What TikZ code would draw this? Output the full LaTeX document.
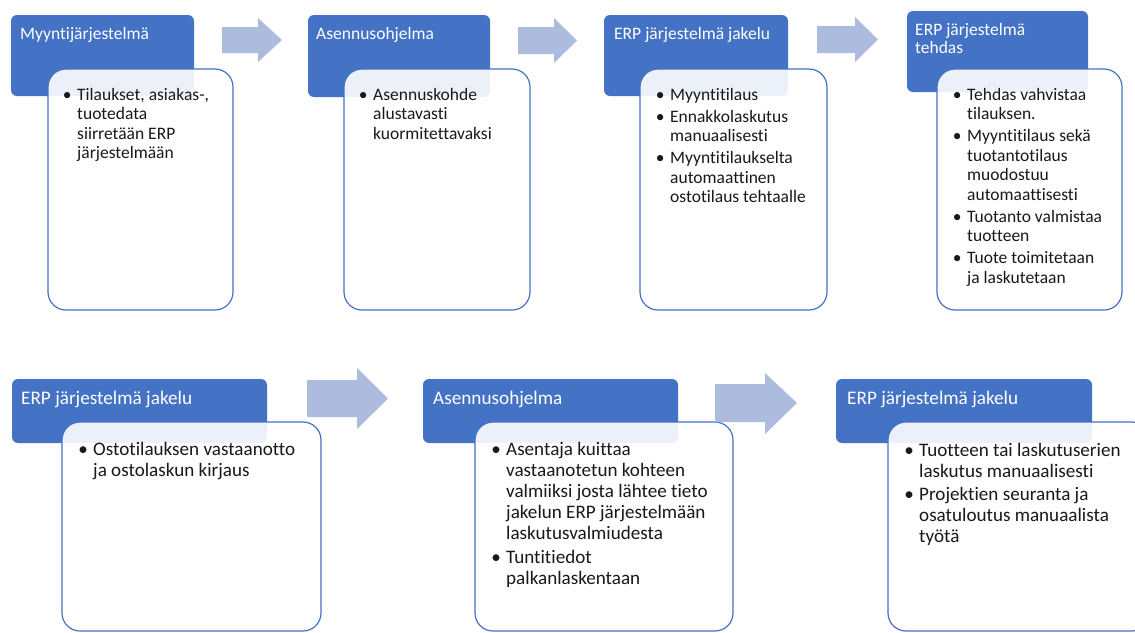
\documentclass[tikz,border=0pt]{standalone}
\usepackage{fontspec}
\setmainfont{Carlito}[Ligatures={NoCommon,NoRare}]
\definecolor{hblue}{HTML}{4472C4}
\definecolor{arrowc}{HTML}{ADBBDF}
\newcommand\bl{\leavevmode\llap{\makebox[20pt]{•}}}
\tikzset{
  hdr/.style={fill=hblue, draw=none, rounded corners=6pt, anchor=north west, inner sep=0pt, outer sep=0pt},
  bodybox/.style={fill=white, fill opacity=0.9, draw=hblue, line width=1.2pt, rounded corners=18pt, anchor=north west, inner sep=0pt, outer sep=0pt},
  hdrtxt/.style={text=white, anchor=base west, inner sep=0pt, font=\fontsize{17.5}{18}\selectfont},
  hdrtxtb/.style={text=white, anchor=base west, inner sep=0pt, font=\fontsize{19.2}{21}\selectfont},
  bodytxt/.style={text=black!90, anchor=base west, inner sep=0pt, font=\fontsize{17.5}{19.5}\selectfont},
  bodytxtb/.style={text=black!90, anchor=base west, inner sep=0pt, font=\fontsize{19.1}{21}\selectfont},
  blockarrow/.style={fill=arrowc, draw=none}
}
\begin{document}
\begin{tikzpicture}[x=1pt,y=-1pt]
\clip (0,0) rectangle (1135,632);
\fill[white] (0,0) rectangle (1135,632);

% ---------- top row ----------
\node[hdr, minimum width=183pt, minimum height=81pt] (h1) at (11,15) {};
\node[bodybox, minimum width=185pt, minimum height=241pt] (b1) at (48,69) {};
\node[hdrtxt] (ht1) at (20,39.5) {Myyntijärjestelmä};
\node[bodytxt] (t1) at (77,100) {\parbox[t]{150pt}{\bl Tilaukset, asiakas-,\\ tuotedata\\ siirretään ERP\\ järjestelmään}};

\node[hdr, minimum width=182pt, minimum height=82pt] (h2) at (308,15) {};
\node[bodybox, minimum width=186pt, minimum height=241pt] (b2) at (344,69) {};
\node[hdrtxt] (ht2) at (316,39.5) {Asennusohjelma};
\node[bodytxt] (t2) at (373,100) {\parbox[t]{150pt}{\bl Asennuskohde\\ alustavasti\\ kuormitettavaksi}};

\node[hdr, minimum width=184pt, minimum height=81pt] (h3) at (604,15) {};
\node[bodybox, minimum width=187pt, minimum height=241pt] (b3) at (640,69) {};
\node[hdrtxt] (ht3) at (614,39.5) {ERP järjestelmä jakelu};
\node[bodytxt] (t3) at (670,100) {\parbox[t]{150pt}{\bl Myyntitilaus\\[2.5pt]
\bl Ennakkolaskutus\\ manuaalisesti\\[2.5pt]
\bl Myyntitilaukselta\\ automaattinen\\ ostotilaus tehtaalle}};

\node[hdr, minimum width=181pt, minimum height=81pt] (h4) at (907,11) {};
\node[bodybox, minimum width=185pt, minimum height=241pt] (b4) at (937,69) {};
\node[hdrtxt] (ht4) at (915,35) {\parbox[t]{170pt}{ERP järjestelmä\\ tehdas}};
\node[bodytxt] (t4) at (967,100) {\parbox[t]{150pt}{\bl Tehdas vahvistaa\\ tilauksen.\\[2.5pt]
\bl Myyntitilaus sekä\\ tuotantotilaus\\ muodostuu\\ automaattisesti\\[2.5pt]
\bl Tuotanto valmistaa\\ tuotteen\\[2.5pt]
\bl Tuote toimitetaan\\ ja laskutetaan}};

% top arrows
\fill[blockarrow] (222,27) -- (258,27) -- (258,18) -- (282,40) -- (258,62) -- (258,53) -- (222,53) -- cycle;
\fill[blockarrow] (518,27) -- (554,27) -- (554,18) -- (577,40.5) -- (554,63) -- (554,54) -- (518,54) -- cycle;
\fill[blockarrow] (817,26) -- (855,26) -- (855,17) -- (878,39.5) -- (855,62) -- (855,53) -- (817,53) -- cycle;

% ---------- bottom row ----------
\node[hdr, minimum width=255pt, minimum height=64pt] (h5) at (12,379) {};
\node[bodybox, minimum width=259pt, minimum height=209pt] (b5) at (62,422) {};
\node[hdrtxtb] (ht5) at (21,404) {ERP järjestelmä jakelu};
\node[bodytxtb] (t5) at (93,455.5) {\parbox[t]{220pt}{\bl Ostotilauksen vastaanotto\\ ja ostolaskun kirjaus}};

\node[hdr, minimum width=255pt, minimum height=64pt] (h6) at (423,379) {};
\node[bodybox, minimum width=258pt, minimum height=209pt] (b6) at (475,422) {};
\node[hdrtxtb] (ht6) at (433,404) {Asennusohjelma};
\node[bodytxtb] (t6) at (506,455.5) {\parbox[t]{220pt}{\bl Asentaja kuittaa\\ vastaanotetun kohteen\\ valmiiksi josta lähtee tieto\\ jakelun ERP järjestelmään\\ laskutusvalmiudesta\\[3pt]
\bl Tuntitiedot\\ palkanlaskentaan}};

\node[hdr, minimum width=256pt, minimum height=64pt] (h7) at (836,379) {};
\node[bodybox, minimum width=262pt, minimum height=209pt] (b7) at (888,422) {};
\node[hdrtxtb] (ht7) at (847,404) {ERP järjestelmä jakelu};
\node[bodytxtb] (t7) at (919,456) {\parbox[t]{220pt}{\bl Tuotteen tai laskutuserien\\ laskutus manuaalisesti\\[2pt]
\bl Projektien seuranta ja\\ osatuloutus manuaalista\\ työtä}};

% bottom arrows
\fill[blockarrow] (307,380) -- (357,380) -- (357,368) -- (388,398.5) -- (357,429) -- (357,417) -- (307,417) -- cycle;
\fill[blockarrow] (715,384) -- (765,384) -- (765,373) -- (797,403) -- (765,434) -- (765,422) -- (715,422) -- cycle;
\end{tikzpicture}
\end{document}
